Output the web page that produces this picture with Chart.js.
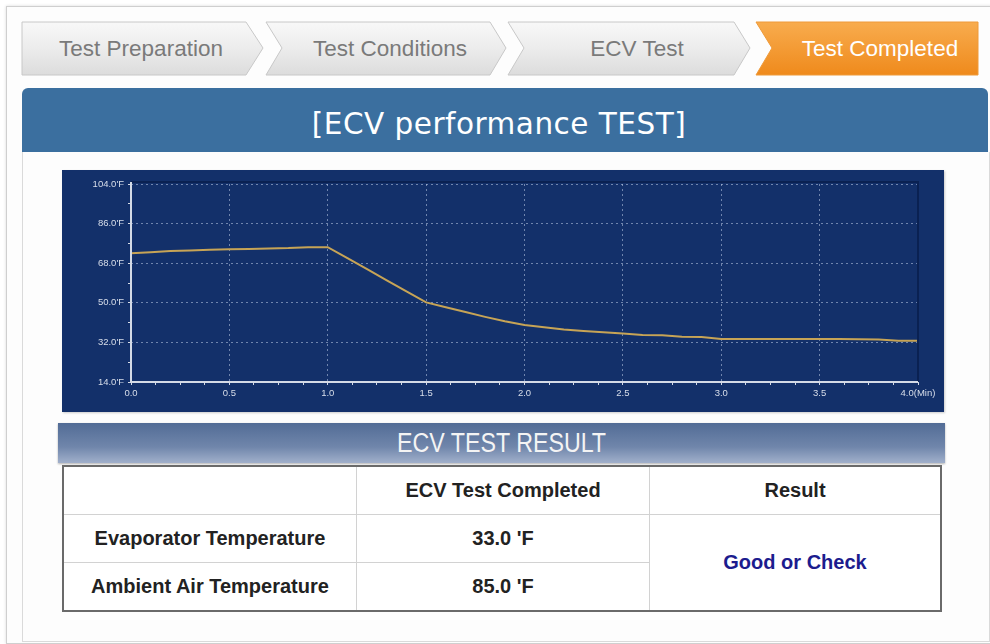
<!DOCTYPE html>
<html>
<head>
<meta charset="utf-8">
<script src="https://cdn.jsdelivr.net/npm/chart.js@4.4.1/dist/chart.umd.min.js"></script>
<style>
  html,body{margin:0;padding:0;background:#fff;}
  body{width:990px;height:644px;position:relative;overflow:hidden;font-family:"Liberation Sans",Arial,sans-serif;}
  #frame{position:absolute;left:6px;top:6px;width:990px;height:636px;border:1px solid #cfcfcf;box-shadow:0 0 3px rgba(0,0,0,0.15);background:#fdfdfd;}
  #tabs{position:absolute;left:0;top:0;}
  #header{position:absolute;left:22px;top:88px;width:966px;height:64px;background:#3b6f9f;border-radius:6px 6px 0 0;
    color:#fff;font-family:"DejaVu Sans",Verdana,sans-serif;font-size:29.5px;text-align:center;line-height:72px;letter-spacing:0.5px;text-indent:-12px;}
  #panel{position:absolute;left:22px;top:152px;width:966px;height:489px;background:#fdfdfd;border:1px solid #dadada;border-top:none;}
  #chartbox{position:absolute;left:62px;top:170px;width:882px;height:242px;background:#13306a;box-shadow:1px 1px 2px rgba(0,0,0,0.2);}
  #resbar{position:absolute;left:58px;top:423px;width:887px;height:40px;
    background:linear-gradient(#526c96,#7086ab 60%,#a1b0cb);box-shadow:0 1px 2px rgba(0,0,0,0.3);
    color:#f4f4f4;text-align:center;line-height:40px;font-family:"Liberation Sans",Arial,sans-serif;font-size:27px;}
  #resbar span{display:inline-block;transform:scaleX(0.86);}
  table{position:absolute;left:62px;top:465px;width:880px;border-collapse:collapse;border:2px solid #6a6a6a;
    font-family:"Liberation Sans",Arial,sans-serif;font-weight:bold;font-size:20px;color:#222;background:#fff;}
  td{border:1px solid #d2d2d2;text-align:center;height:47px;padding:0;}
  td.c1{width:292px;}
  td.c2{width:292px;}
  .good{color:#1c1c8e;}
</style>
</head>
<body>
<div id="frame"></div>
<svg id="tabs" width="990" height="90">
  <defs>
    <linearGradient id="g" x1="0" y1="0" x2="0" y2="1">
      <stop offset="0" stop-color="#f8f8f8"/>
      <stop offset="0.5" stop-color="#ececec"/>
      <stop offset="1" stop-color="#dcdcdc"/>
    </linearGradient>
    <linearGradient id="o" x1="0" y1="0" x2="0" y2="1">
      <stop offset="0" stop-color="#f8ac4e"/>
      <stop offset="1" stop-color="#ef8a1c"/>
    </linearGradient>
  </defs>
  <polygon points="22,22 246,22 263,48 246,75 22,75" fill="url(#g)" stroke="#c8c8c8"/>
  <polygon points="266,22 490,22 506,48 490,75 266,75 282,48" fill="url(#g)" stroke="#c8c8c8"/>
  <polygon points="508,22 734,22 750,48 734,75 508,75 524,48" fill="url(#g)" stroke="#c8c8c8"/>
  <polygon points="756,22 978,22 978,75 756,75 772,48" fill="url(#o)" stroke="#ee9a3a"/>
  <g font-family="Liberation Sans, Arial, sans-serif" font-size="22.5" text-anchor="middle">
    <text x="141" y="56" fill="#7a7a7a">Test Preparation</text>
    <text x="390" y="56" fill="#7a7a7a">Test Conditions</text>
    <text x="637" y="56" fill="#7a7a7a">ECV Test</text>
    <text x="880" y="56" fill="#ffffff">Test Completed</text>
  </g>
</svg>
<div id="header">[ECV performance TEST]</div>
<div id="panel"></div>
<div id="chartbox"><canvas id="c" width="882" height="242"></canvas></div>
<div id="resbar"><span>ECV TEST RESULT</span></div>
<table>
  <tr><td class="c1"></td><td class="c2">ECV Test Completed</td><td>Result</td></tr>
  <tr><td>Evaporator Temperature</td><td>33.0 'F</td><td rowspan="2" class="good">Good or Check</td></tr>
  <tr><td>Ambient Air Temperature</td><td>85.0 'F</td></tr>
</table>
<script>
// ---- data ----
const timeMin = [0.0,0.1,0.2,0.3,0.4,0.5,0.6,0.7,0.8,0.9,1.0,1.1,1.2,1.3,1.4,1.5,1.6,1.7,1.8,1.9,2.0,
                 2.1,2.2,2.3,2.4,2.5,2.6,2.7,2.8,2.9,3.0,3.1,3.2,3.3,3.4,3.5,3.6,3.7,3.8,3.9,4.0];
const evapTempF = [72.5,73.0,73.5,73.8,74.1,74.3,74.5,74.7,74.9,75.3,75.3,70.3,65.3,60.2,55.2,50.2,48.0,45.8,43.6,41.6,39.9,
                   38.9,37.9,37.2,36.6,36.1,35.4,35.2,34.6,34.5,33.6,33.5,33.5,33.5,33.5,33.5,33.5,33.4,33.3,32.8,32.7];
const yTickValues = [14,23,32,41,50,59,68,77,86,95,104];
const yLabelValues = [14,32,50,68,86,104];
const xTickValues = [0,0.125,0.25,0.375,0.5,0.625,0.75,0.875,1,1.125,1.25,1.375,1.5,1.625,1.75,1.875,2,
                     2.125,2.25,2.375,2.5,2.625,2.75,2.875,3,3.125,3.25,3.375,3.5,3.625,3.75,3.875,4];
const xLabelValues = [0,0.5,1,1.5,2,2.5,3,3.5,4];
const xUnit = "(Min)";

const isXMajor = v => xLabelValues.includes(v);
const isYMajor = v => yLabelValues.includes(v);

const framePlugin = {
  id:'frame',
  afterDraw(chart){
    const {ctx, chartArea:a} = chart;
    ctx.save();
    ctx.lineWidth = 2;
    ctx.strokeStyle = '#0a2152';
    ctx.beginPath();
    ctx.moveTo(a.left, a.top-2); ctx.lineTo(a.right, a.top-2); ctx.lineTo(a.right, a.bottom);
    ctx.stroke();
    ctx.strokeStyle = '#d4dae6';
    ctx.beginPath();
    ctx.moveTo(a.left, a.top-2); ctx.lineTo(a.left, a.bottom); ctx.lineTo(a.right, a.bottom);
    ctx.stroke();
    ctx.restore();
  }
};

new Chart(document.getElementById('c'), {
  type:'line',
  data:{
    datasets:[{
      data: timeMin.map((t,i)=>({x:t, y:evapTempF[i]})),
      borderColor:'#c7a456',
      borderWidth:2,
      pointRadius:0,
      tension:0
    }]
  },
  options:{
    responsive:false,
    animation:false,
    devicePixelRatio:1,
    layout:{padding:{left:0,right:26,top:14,bottom:0}},
    plugins:{legend:{display:false},tooltip:{enabled:false}},
    scales:{
      x:{
        type:'linear', min:0, max:4,
        afterBuildTicks: s => { s.ticks = xTickValues.map(v=>({value:v})); },
        afterFit: s => { s.height = 30; },
        border:{display:false, dash:[2,3]},
        grid:{
          color: c => (c.tick && isXMajor(c.tick.value)) ? 'rgba(190,204,230,0.55)' : 'rgba(0,0,0,0)',
          tickColor:'#d4dae6', tickLength:3, lineWidth:1, borderDash:[2,3], drawTicks:true
        },
        ticks:{
          autoSkip:false, maxRotation:0, color:'#d8deea', padding:3,
          font:{family:'"Liberation Sans", Arial, sans-serif', size:9.5},
          callback: (v) => isXMajor(v) ? (v===4 ? v.toFixed(1)+xUnit : v.toFixed(1)) : ''
        }
      },
      y:{
        type:'linear', min:14, max:104,
        afterBuildTicks: s => { s.ticks = yTickValues.map(v=>({value:v})); },
        afterFit: s => { s.width = 69; },
        border:{display:false, dash:[2,3]},
        grid:{
          color: c => (c.tick && isYMajor(c.tick.value)) ? 'rgba(190,204,230,0.55)' : 'rgba(0,0,0,0)',
          tickColor:'#d4dae6', tickLength:3, lineWidth:1, borderDash:[2,3]
        },
        ticks:{
          autoSkip:false, color:'#d8deea', padding:4,
          font:{family:'"Liberation Sans", Arial, sans-serif', size:9.5},
          callback: (v) => isYMajor(v) ? v.toFixed(1)+"'F" : ''
        }
      }
    }
  },
  plugins:[framePlugin]
});
</script>
</body>
</html>
